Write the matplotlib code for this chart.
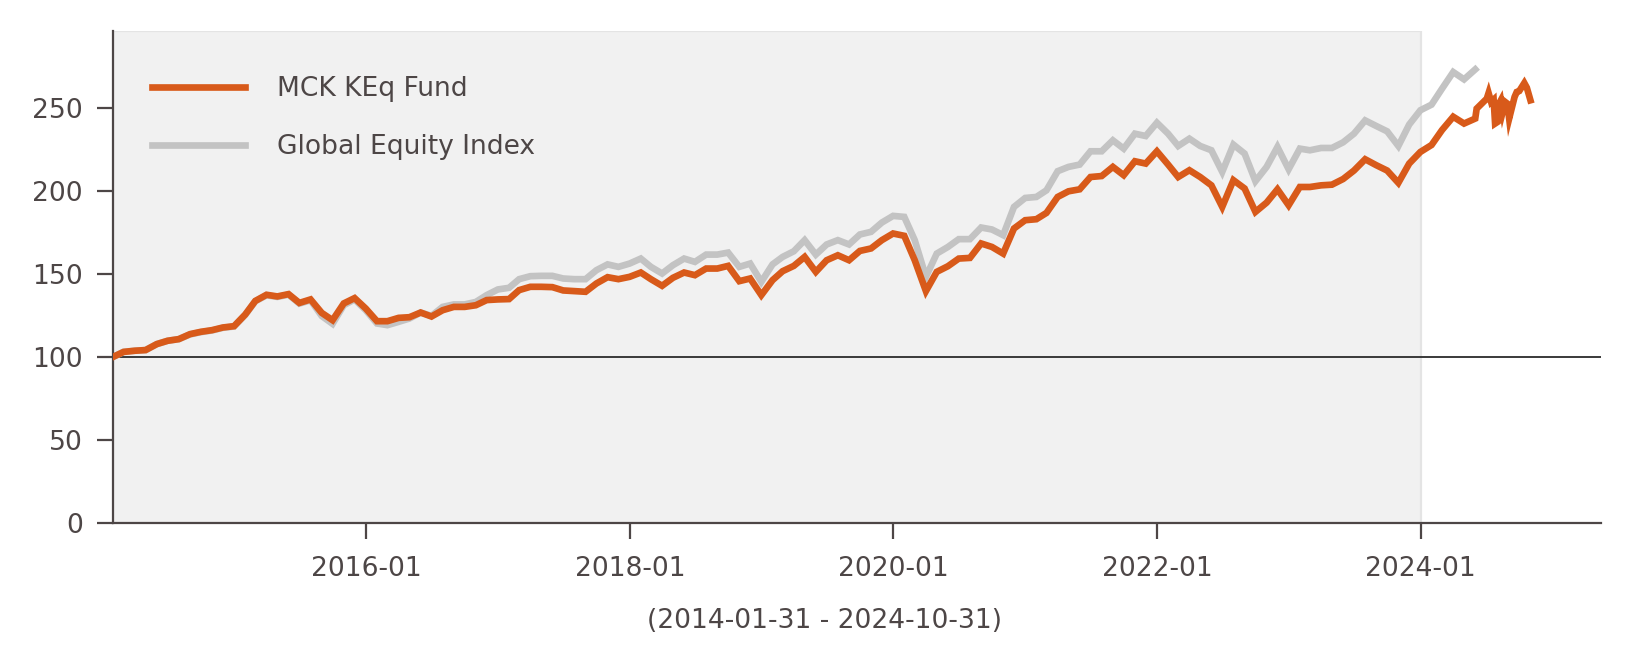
import matplotlib
matplotlib.use("Agg")
import matplotlib.pyplot as plt
import pandas as pd

# ---- data ----
start_date = "2014-01-31"
end_date = "2024-10-31"
shade_end = "2024-01-01"

fund_monthly = [
    100.0, 102.9, 103.6, 104.0, 107.6, 109.6, 110.6, 113.6, 115.0, 116.0, 117.6, 118.4,
    125.4, 133.6, 137.3, 136.3, 137.7, 132.4, 134.5, 126.4, 122.0, 132.1, 135.3, 129.0,
    121.4, 121.4, 123.4, 123.8, 126.6, 124.2, 128.0, 130.0, 130.0, 131.0, 134.1, 134.5,
    134.7, 140.1, 142.1, 142.1, 141.9, 139.9, 139.5, 139.1, 144.1, 147.9, 146.7, 148.1,
    150.7, 146.7, 142.7, 147.5, 150.7, 149.1, 153.1, 153.1, 154.7, 145.5, 147.1, 137.1,
    146.1, 151.5, 154.7, 160.1, 151.1, 158.1, 161.1, 158.1, 163.7, 165.2, 170.2, 174.2,
    172.8, 158.1, 139.5, 151.1, 154.5, 159.1, 159.5, 168.2, 166.1, 162.1, 177.2, 182.2,
    182.8, 186.6, 196.2, 199.6, 200.8, 208.2, 208.8, 214.3, 209.3, 217.7, 216.3, 223.7,
    215.7, 208.2, 212.3, 208.2, 203.2, 190.2, 206.3, 201.3, 187.2, 192.8, 200.8, 191.2,
    202.2, 202.2, 203.2, 203.6, 207.0, 212.1, 218.9, 215.3, 212.1, 204.7, 216.3, 223.3,
    227.5, 236.5, 244.5, 240.4, 243.4,
]

index_monthly = [
    100.0, 102.9, 103.6, 104.0, 107.6, 109.6, 110.6, 113.4, 114.8, 115.8, 117.4, 118.2,
    125.2, 133.4, 137.0, 136.0, 137.4, 132.0, 134.0, 124.5, 119.8, 131.0, 134.5, 128.0,
    120.0, 119.0, 121.0, 123.0, 126.6, 124.6, 130.0, 131.5, 131.5, 133.0, 137.1, 140.5,
    141.5, 146.7, 148.5, 148.7, 148.7, 147.1, 146.7, 146.7, 152.1, 155.6, 154.1, 156.1,
    159.1, 154.1, 150.1, 155.1, 159.1, 157.1, 161.5, 161.5, 162.7, 154.1, 156.1, 145.1,
    155.6, 160.1, 163.5, 170.2, 161.5, 167.6, 170.2, 167.6, 173.6, 175.2, 180.8, 184.8,
    184.2, 170.2, 148.1, 162.1, 166.1, 170.8, 170.8, 177.8, 176.6, 173.2, 190.2, 195.6,
    196.2, 200.2, 211.7, 214.3, 215.7, 223.7, 223.7, 230.3, 225.3, 234.3, 232.9, 240.9,
    234.3, 226.9, 231.3, 226.9, 224.3, 211.3, 227.7, 222.3, 205.7, 214.3, 226.3, 212.9,
    225.3, 224.3, 225.7, 225.7, 229.1, 234.3, 242.3, 238.9, 235.7, 226.9, 239.8, 248.4,
    251.8, 261.4, 271.4, 267.0, 273.0,
]

fund_recent_dates = [
    "2024-06-04", "2024-06-18", "2024-07-02", "2024-07-07", "2024-07-14", "2024-07-21",
    "2024-07-25", "2024-08-01", "2024-08-05", "2024-08-10", "2024-08-15", "2024-08-22",
    "2024-08-28", "2024-09-02", "2024-09-09", "2024-09-17", "2024-09-23", "2024-09-30",
    "2024-10-07", "2024-10-14", "2024-10-21", "2024-10-27", "2024-10-31",
]
fund_recent = [
    249.4, 252.4, 255.4, 258.8, 253.4, 254.8,
    240.4, 241.4, 252.4, 254.4, 247.4, 253.4,
    252.4, 243.4, 249.4, 256.4, 259.4, 260.0,
    262.4, 264.8, 262.0, 257.4, 254.4,
]

y_ticks = [0, 50, 100, 150, 200, 250]
x_tick_labels = ["2016-01", "2018-01", "2020-01", "2022-01", "2024-01"]

series_names = ["MCK KEq Fund", "Global Equity Index"]

# ---- build ----
month_dates = pd.date_range(start_date, periods=len(fund_monthly), freq="ME")
fund_dates = list(month_dates) + list(pd.to_datetime(fund_recent_dates))
fund_values = list(fund_monthly) + list(fund_recent)
index_dates = pd.date_range(start_date, periods=len(index_monthly), freq="ME")

TXT = "#4d4646"
ORANGE = "#d85a1a"
GRAY = "#c3c3c3"
FS = 9.55

plt.rcParams["font.family"] = ["DejaVu Sans"]
fig = plt.figure(figsize=(8.165, 3.335), dpi=200)
ax = fig.add_axes([0.0695, 0.2162, 0.9108, 0.737])

x0 = pd.Timestamp(start_date)
x1 = pd.Timestamp(end_date) + pd.Timedelta(days=195)

ax.axvspan(x0, pd.Timestamp(shade_end), facecolor="#f1f1f1", edgecolor="#e4e4e4",
           linewidth=0.8, zorder=0)
ax.axhline(100, color="#3a3a3a", linewidth=0.7, zorder=1)

ax.plot(index_dates, index_monthly, color=GRAY, linewidth=2.4, label=series_names[1],
        zorder=2, solid_joinstyle="miter")
ax.plot(fund_dates, fund_values, color=ORANGE, linewidth=2.4, label=series_names[0],
        zorder=3, solid_joinstyle="miter")

ax.set_xlim(x0, x1)
ax.set_ylim(0, 296)
ax.set_yticks(y_ticks)
ax.set_xticks([pd.Timestamp(t + "-01") for t in x_tick_labels])
ax.set_xticklabels(x_tick_labels)

for s in ["top", "right"]:
    ax.spines[s].set_visible(False)
for s in ["left", "bottom"]:
    ax.spines[s].set_color(TXT)
    ax.spines[s].set_linewidth(0.8)

ax.tick_params(axis="y", colors=TXT, labelsize=FS, length=5.8, width=0.8, pad=5.3,
               labelcolor=TXT)
ax.tick_params(axis="x", colors=TXT, labelsize=FS, length=5.8, width=0.8, pad=6.3,
               labelcolor=TXT)

handles, labels = ax.get_legend_handles_labels()
leg = ax.legend(handles[::-1], labels[::-1], loc="upper left",
                bbox_to_anchor=(0.0259, 0.909), frameon=False, fontsize=FS,
                handlelength=3.5, handletextpad=1.2, labelspacing=1.22,
                borderpad=0, borderaxespad=0)
for t in leg.get_texts():
    t.set_color(TXT)

fig.text(825 / 1633, 0.0694, f"({start_date} - {end_date})", ha="center", va="center",
         fontsize=FS, color=TXT)

fig.savefig("out.png", dpi=200)
